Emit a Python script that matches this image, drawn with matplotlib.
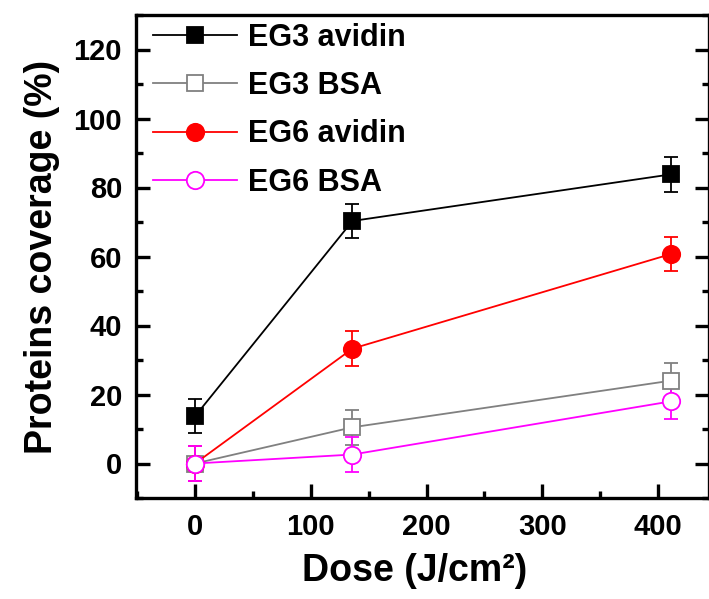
import numpy as np
import matplotlib
matplotlib.use("Agg")
import matplotlib.pyplot as plt
from matplotlib.ticker import MultipleLocator

plt.rcParams['font.family'] = ['Liberation Sans', 'DejaVu Sans']
plt.rcParams['font.weight'] = 'bold'

# Data
dose = [0, 136, 411]
eg3_avidin = [13.7, 70.3, 83.8]
eg3_bsa = [0.0, 10.5, 24.0]
eg6_avidin = [0.0, 33.3, 60.7]
eg6_bsa = [0.0, 2.6, 18.0]
err = [5, 5, 5]

series = [
    ("EG3 avidin", eg3_avidin, 's', 'black', 'black'),
    ("EG3 BSA", eg3_bsa, 's', '#808080', 'white'),
    ("EG6 avidin", eg6_avidin, 'o', 'red', 'red'),
    ("EG6 BSA", eg6_bsa, 'o', '#ff00ff', 'white'),
]

fig = plt.figure(figsize=(7.09, 5.99), dpi=100)
ax = fig.add_axes([136 / 709, 1 - 498 / 599, 573 / 709, 483 / 599])

lines = []
for label, vals, mk, col, face in series:
    ms = 11 if mk == 's' else 12.5
    cont = ax.errorbar(dose, vals, yerr=err, color=col, marker=mk, markersize=ms,
                       markerfacecolor=face, markeredgecolor=col, markeredgewidth=1.3,
                       linewidth=1.3, capsize=5, capthick=1.3, elinewidth=1.3,
                       label=label)
    lines.append(cont.lines[0])

ax.set_xlim(-51, 444)
ax.set_ylim(-10, 130)
ax.xaxis.set_major_locator(MultipleLocator(100))
ax.xaxis.set_minor_locator(MultipleLocator(50))
ax.yaxis.set_major_locator(MultipleLocator(20))
ax.yaxis.set_minor_locator(MultipleLocator(10))

for s in ax.spines.values():
    s.set_linewidth(2.4)

ax.tick_params(which='both', direction='in', width=2.4, labelsize=21,
               top=False, right=True)
ax.tick_params(which='major', length=10)
ax.tick_params(which='minor', length=5)
ax.tick_params(axis='x', pad=11)
ax.tick_params(axis='y', pad=10)
for t in ax.get_xticklabels() + ax.get_yticklabels():
    t.set_fontweight('bold')

ax.set_xlabel("Dose (J/cm²)", fontsize=27, fontweight='bold')
ax.xaxis.set_label_coords(0.487, -0.113, transform=ax.transAxes)
ax.xaxis.label.set_va('top')
ax.set_ylabel("Proteins coverage (%)", fontsize=27, fontweight='bold', labelpad=10)

ax.legend(lines, [s[0] for s in series], loc='upper left', frameon=False,
          bbox_to_anchor=(0.03, 0.984), borderaxespad=0, borderpad=0,
          handlelength=2.75, handletextpad=0.36, labelspacing=0.6,
          prop={'size': 22, 'weight': 'bold'})

fig.savefig("out.png", dpi=100)
